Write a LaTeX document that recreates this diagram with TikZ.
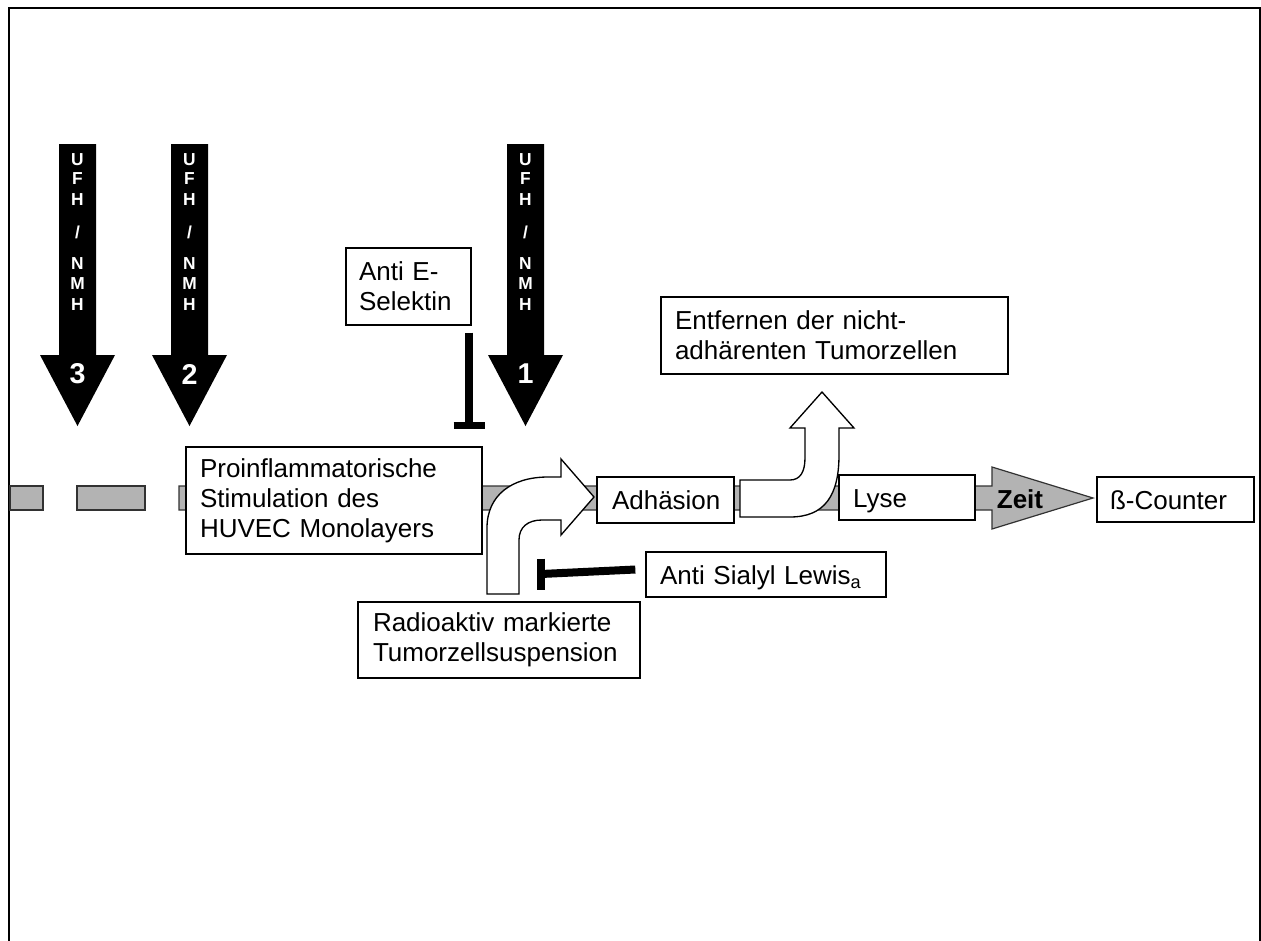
\documentclass[tikz,border=0pt]{standalone}
\usepackage{fontspec}
\setmainfont{Liberation Sans}
\definecolor{barfill}{RGB}{179,179,179}
\definecolor{bardraw}{RGB}{50,50,50}
\def\slsh{/}
\begin{document}
\begin{tikzpicture}[x=0.75pt,y=-0.75pt,
  txt/.style={font=\fontsize{19.5}{22.5}\selectfont},
  box/.style={draw=black, line width=1pt, fill=white, inner ysep=0pt, align=left, txt},
  onebox/.style={box, text height=15.75pt, text depth=1.5pt},
  barshape/.style={fill=barfill, draw=bardraw, line width=0.9pt},
  blk/.style={fill=black, draw=none},
  vl/.style={text=white, font=\fontsize{13}{15}\selectfont\bfseries, inner sep=0pt},
  num/.style={text=white, font=\fontsize{21.5}{24}\selectfont\bfseries, inner sep=0pt},
  tbar/.style={line width=6pt, black},
  tcross/.style={line width=5.5pt, black},
  whitearrow/.style={fill=white, draw=black, line width=1pt, line join=miter}
]
\useasboundingbox (0,0) rectangle (1261,940);
% frame
\draw[line width=1.5pt] (9,960) -- (9,8) -- (1259.5,8) -- (1259.5,960);

% time bar with dashes and Zeit arrow head
\draw[barshape] (10,486) rectangle (43,510);
\draw[barshape] (77,486) rectangle (145,510);
\draw[barshape] (179,486) -- (992,486) -- (992,467) -- (1093,498) -- (992,529) -- (992,510) -- (179,510) -- cycle;

% black UFH/NMH arrows
\foreach \ax/\nm/\n in {77.5/c/3, 189.5/b/2, 525.5/a/1}{
  \fill[blk] ({\ax-18.5},144) -- ({\ax+18.5},144) -- ({\ax+18.5},355) -- ({\ax+37.5},355)
     -- (\ax,426) -- ({\ax-37.5},355) -- ({\ax-18.5},355) -- cycle;
  \foreach \l/\ly [count=\k] in {U/160, F/179, H/200, \slsh/232, N/264, M/284, H/305}{
    \node[vl] (l\nm\k) at (\ax,\ly) {\l};
  }
  \node[num] (n\nm) at (\ax,374) {\n};
}

% boxes
\node[box, minimum width=222pt, minimum height=80.25pt, inner xsep=10.5pt, text width=201pt]
  (pro) at (334,500.5) {Proinflammatorische\\Stimulation des\\HUVEC Monolayers};
\node[box, minimum width=93.75pt, minimum height=57.75pt, inner xsep=9.75pt, text width=74.25pt]
  (aes) at (408.5,286.5) {Anti E-\\Selektin};
\node[box, minimum width=260.25pt, minimum height=57.75pt, inner xsep=10.5pt, text width=239.25pt]
  (ent) at (834.5,335.5) {Entfernen der nicht-\\adhärenten Tumorzellen};
\node[box, minimum width=211.5pt, minimum height=57pt, inner xsep=11.25pt, text width=189pt]
  (rad) at (499,640) {Radioaktiv markierte\\Tumorzellsuspension};
\node[onebox, minimum width=102.75pt, minimum height=34.5pt, inner xsep=11.25pt, text width=80.25pt]
  (adh) at (665.5,500) {Adhäsion};
\node[onebox, minimum width=102pt, minimum height=33.75pt, inner xsep=10.5pt, text width=81pt]
  (lys) at (907,497.5) {Lyse};
\node[onebox, minimum width=117.75pt, minimum height=33.75pt, inner xsep=9.75pt, text width=98.25pt]
  (cnt) at (1175.5,499.5) {ß-Counter};
\node[onebox, minimum width=180pt, minimum height=33.75pt, inner xsep=10.5pt, text width=159pt]
  (asl) at (766,574.5) {Anti Sialyl Lewis\textsubscript{a}};

\node[txt, font=\fontsize{19.5}{22.5}\selectfont\bfseries, inner sep=0pt] (zeit) at (1020,499) {Zeit};

% inhibition bars
\coordinate (eT) at (469,425.5);
\draw[tbar, shorten <=5.25pt] (aes.south -| eT) -- (eT);
\draw[tcross] (eT) ++(-15.5,0) -- ++(31,0);
\coordinate (sT) at (541,574);
\draw[tbar] ([xshift=-7.5pt, yshift=3.75pt]asl.west) -- (sT);
\draw[tcross] (sT) ++(0,-15.5) -- ++(0,31);

% white bent arrows
\draw[whitearrow] (487,594) -- (487,528) .. controls (487,495) and (512,477) .. (548,477)
  -- (561,477) -- (561,459) -- (594,497) -- (561,535) -- (561,520)
  -- (542,520) .. controls (528,520) and (519,527) .. (519,540) -- (519,594) -- cycle;
\draw[whitearrow] (740,480) -- (790,480) .. controls (800,480) and (805,472) .. (805,458)
  -- (805,428) -- (790,428) -- (822,392) -- (854,428) -- (839,428) -- (839,455)
  .. controls (839,495) and (825,517) .. (790,517) -- (740,517) -- cycle;
\end{tikzpicture}
\end{document}
